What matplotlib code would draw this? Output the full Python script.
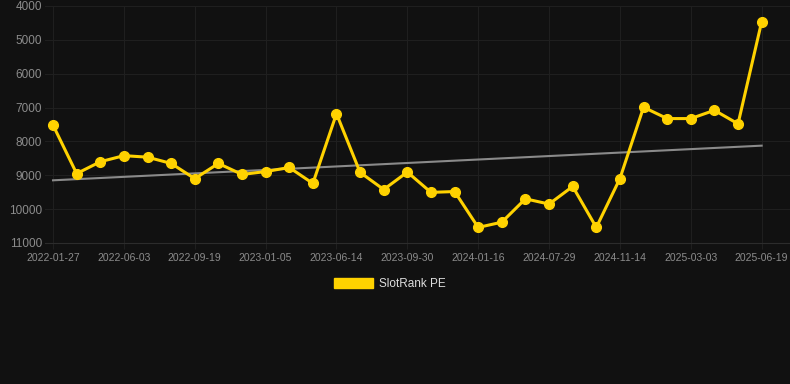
import numpy as np
import matplotlib.pyplot as plt
from matplotlib.patches import Patch

plt.rcParams['font.family'] = ['Liberation Sans', 'DejaVu Sans']

# tick labels shown on the x axis (every third point)
tick_labels = ["2022-01-27", "2022-06-03", "2022-09-19", "2023-01-05", "2023-06-14",
               "2023-09-30", "2024-01-16", "2024-07-29", "2024-11-14", "2025-03-03",
               "2025-06-19"]
# rank values
ranks = [7520, 8950, 8600, 8420, 8465, 8650, 9100, 8650, 8975, 8890,
         8770, 9240, 7180, 8915, 9420, 8905, 9505, 9480, 10540, 10385,
         9695, 9850, 9330, 10540, 9095, 6990, 7325, 7325, 7080, 7480,
         4465]
y_ticks = [4000, 5000, 6000, 7000, 8000, 9000, 10000, 11000]

bg = "#111111"
gold = "#FFD200"

x = np.arange(len(ranks))
fit = np.polyfit(x, ranks, 1)
trend = np.polyval(fit, x)

fig = plt.figure(figsize=(7.9, 3.84), dpi=100, facecolor=bg)
ax = fig.add_axes([45 / 790, 1 - 243 / 384, 745 / 790, 237 / 384], facecolor=bg)

ax.plot(x, trend, color="#8a8a8a", lw=1.5, zorder=2)
ax.plot(x, ranks, color=gold, lw=2.2, marker="o", markersize=7, zorder=3)

ax.set_xlim(-0.34, 31.2)
ax.set_ylim(11000, 4000)
ax.set_yticks(y_ticks)
ax.set_xticks(x[::3])
ax.set_xticklabels(tick_labels)

ax.grid(True, color="#1f1f1f", lw=0.8)
ax.set_axisbelow(True)
for s in ["top", "right", "left"]:
    ax.spines[s].set_visible(False)
ax.spines["bottom"].set_color("#2c2c2c")
ax.tick_params(axis="y", length=0, colors="#8c8c8c", labelsize=8.5, pad=2)
ax.tick_params(axis="x", length=4, color="#1f1f1f", colors="#8c8c8c", labelsize=7.5, pad=3)

handle = Patch(facecolor=gold, edgecolor=gold)
leg = fig.legend([handle], ["SlotRank PE"], loc="center", bbox_to_anchor=(390 / 790, 1 - 284 / 384),
                 frameon=False, fontsize=8.5, handlelength=3.3, handleheight=0.9, handletextpad=0.5)
for t in leg.get_texts():
    t.set_color("#dddddd")

fig.savefig("out.png", dpi=100, facecolor=bg)
